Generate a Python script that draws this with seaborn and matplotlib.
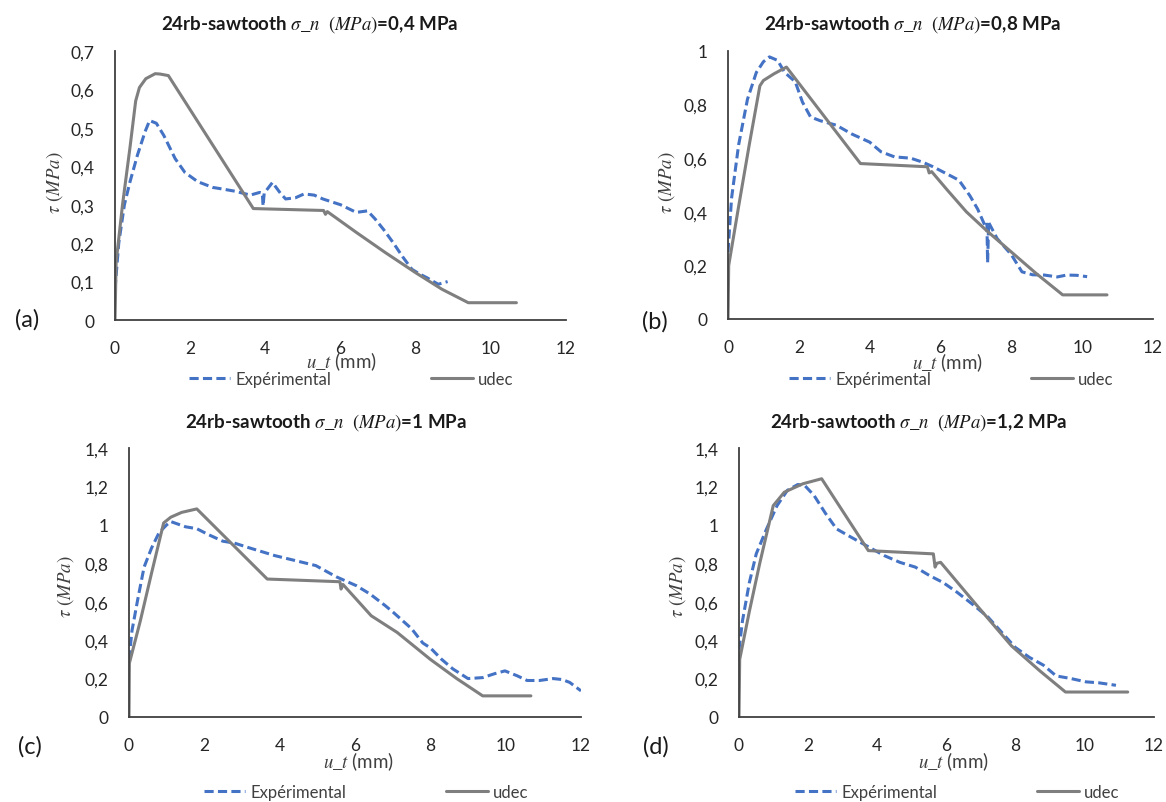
import numpy as np
import pandas as pd
import matplotlib
matplotlib.use("Agg")
import matplotlib.pyplot as plt
from matplotlib.ticker import FuncFormatter, MultipleLocator
import seaborn as sns

# values
titles = ["0,4", "0,8", "1", "1,2"]
panel_tags = ["(a)", "(b)", "(c)", "(d)"]
y_max = [0.7, 1.0, 1.4, 1.4]

exp_a_x = [0, 0.1, 0.25, 0.4, 0.6, 0.8, 0.92, 1.1, 1.3, 1.6, 1.86, 2.2, 2.6, 2.85, 3.2, 3.6, 3.85, 3.92, 3.94, 3.97, 4.19, 4.4, 4.54, 4.8, 5.03, 5.3, 5.53, 6.0, 6.42, 6.72, 6.92, 7.15, 7.41, 7.65, 7.9, 8.1, 8.3, 8.6, 8.85]
exp_a_y = [0.08, 0.2, 0.3, 0.36, 0.43, 0.49, 0.519, 0.512, 0.48, 0.42, 0.384, 0.36, 0.345, 0.341, 0.335, 0.325, 0.332, 0.33, 0.297, 0.33, 0.358, 0.33, 0.315, 0.318, 0.328, 0.325, 0.315, 0.3, 0.28, 0.284, 0.263, 0.235, 0.2, 0.165, 0.132, 0.12, 0.11, 0.093, 0.1]
udec_a_x = [0, 0.03, 0.2, 0.4, 0.55, 0.65, 0.82, 1.07, 1.2, 1.42, 3.68, 5.55, 5.6, 5.65, 6.42, 7.2, 8.0, 8.7, 9.4, 10.68]
udec_a_y = [0, 0.15, 0.3, 0.45, 0.57, 0.605, 0.628, 0.641, 0.64, 0.636, 0.29, 0.285, 0.275, 0.282, 0.228, 0.175, 0.123, 0.08, 0.045, 0.045]

exp_b_x = [0, 0.1, 0.3, 0.55, 0.8, 1.0, 1.17, 1.4, 1.6, 1.9, 2.1, 2.33, 2.6, 3.06, 3.5, 4.0, 4.32, 4.7, 5.16, 5.5, 5.79, 6.2, 6.52, 6.83, 7.05, 7.25, 7.31, 7.33, 7.36, 7.6, 8.0, 8.3, 8.6, 8.93, 9.3, 9.56, 9.85, 10.14]
exp_b_y = [0.25, 0.45, 0.65, 0.82, 0.92, 0.96, 0.978, 0.965, 0.92, 0.885, 0.81, 0.754, 0.74, 0.723, 0.69, 0.66, 0.624, 0.605, 0.6, 0.585, 0.568, 0.54, 0.518, 0.46, 0.41, 0.35, 0.36, 0.21, 0.36, 0.3, 0.24, 0.176, 0.165, 0.164, 0.157, 0.164, 0.163, 0.158]
udec_b_x = [0, 0.02, 0.3, 0.6, 0.9, 1.0, 1.3, 1.65, 3.74, 5.63, 5.68, 5.75, 6.2, 6.73, 7.3, 8.0, 8.7, 9.45, 10.7]
udec_b_y = [0, 0.2, 0.42, 0.65, 0.87, 0.89, 0.915, 0.94, 0.58, 0.568, 0.545, 0.55, 0.48, 0.4, 0.33, 0.25, 0.17, 0.09, 0.09]

exp_c_x = [0, 0.08, 0.23, 0.4, 0.6, 0.8, 1.0, 1.11, 1.5, 1.8, 2.1, 2.49, 2.8, 3.2, 3.87, 4.5, 4.96, 5.5, 6.04, 6.4, 6.8, 7.02, 7.5, 7.8, 8.0, 8.3, 8.6, 9.0, 9.39, 9.7, 9.98, 10.3, 10.57, 10.9, 11.26, 11.5, 11.7, 12.0]
exp_c_y = [0.3, 0.45, 0.61, 0.78, 0.88, 0.96, 1.0, 1.017, 0.99, 0.98, 0.95, 0.915, 0.905, 0.88, 0.84, 0.81, 0.788, 0.73, 0.683, 0.64, 0.58, 0.544, 0.46, 0.385, 0.36, 0.3, 0.25, 0.2, 0.205, 0.225, 0.24, 0.215, 0.19, 0.19, 0.2, 0.195, 0.18, 0.136]
udec_c_x = [0, 0.01, 0.3, 0.6, 0.92, 1.11, 1.4, 1.8, 3.67, 5.6, 5.63, 5.68, 6.43, 7.12, 8.0, 8.7, 9.39, 10.67]
udec_c_y = [0, 0.28, 0.5, 0.75, 1.01, 1.04, 1.065, 1.083, 0.718, 0.704, 0.666, 0.69, 0.527, 0.44, 0.3, 0.2, 0.11, 0.11]

exp_d_x = [0, 0.1, 0.3, 0.5, 0.8, 1.1, 1.4, 1.7, 1.9, 2.17, 2.5, 2.82, 3.2, 3.68, 4.2, 4.65, 5.1, 5.51, 5.9, 6.3, 6.8, 7.2, 7.6, 7.99, 8.4, 8.8, 9.17, 9.6, 10.03, 10.4, 10.9]
exp_d_y = [0.35, 0.5, 0.7, 0.85, 0.98, 1.1, 1.18, 1.21, 1.205, 1.153, 1.06, 0.979, 0.94, 0.892, 0.84, 0.805, 0.78, 0.736, 0.7, 0.65, 0.58, 0.52, 0.44, 0.362, 0.31, 0.27, 0.214, 0.2, 0.183, 0.178, 0.165]
udec_d_x = [0, 0.02, 0.3, 0.6, 0.99, 1.31, 1.85, 2.39, 3.74, 5.62, 5.67, 5.72, 5.83, 6.8, 7.88, 8.7, 9.44, 11.24]
udec_d_y = [0, 0.3, 0.55, 0.8, 1.1, 1.17, 1.214, 1.24, 0.866, 0.849, 0.78, 0.8, 0.805, 0.597, 0.37, 0.24, 0.13, 0.13]

exp_x = [exp_a_x, exp_b_x, exp_c_x, exp_d_x]
exp_y = [exp_a_y, exp_b_y, exp_c_y, exp_d_y]
udec_x = [udec_a_x, udec_b_x, udec_c_x, udec_d_x]
udec_y = [udec_a_y, udec_b_y, udec_c_y, udec_d_y]

sns.set_style("white")
plt.rcParams["font.family"] = ["Lato", "DejaVu Sans"]
plt.rcParams["mathtext.fontset"] = "stix"

W, H = 1166, 803
fig = plt.figure(figsize=(W / 100, H / 100), dpi=100)

# layout in pixels: left, right, bottom(y=0), top(y=max)
boxes = [(115, 566, 321, 52), (728, 1153, 320, 52), (129, 581, 718, 449), (739, 1154, 718, 449)]
title_pos = [(310, 25), (913, 25), (326, 423), (919, 423)]
ylab_pos = [(55, 183), (667, 183), (66, 587), (678, 587)]
xlab_pos = [(341, 362), (947, 363), (358, 762), (953, 762)]
tag_pos = [(27, 320), (655, 322), (30, 747), (656, 747)]
leg_pos = [(351, 380), (951, 380), (366, 793), (957, 793)]

comma = FuncFormatter(lambda v, p: f"{v:g}".replace(".", ","))
blue = "#4472C4"
gray = "#7F7F7F"

for i in range(4):
    l, r, b, t = boxes[i]
    ax = fig.add_axes([l / W, 1 - b / H, (r - l) / W, (b - t) / H])
    df_e = pd.DataFrame({"x": exp_x[i], "y": exp_y[i]})
    df_u = pd.DataFrame({"x": udec_x[i], "y": udec_y[i]})
    sns.lineplot(data=df_e, x="x", y="y", ax=ax, sort=False, estimator=None,
                 color=blue, lw=2.2, linestyle=(0, (3, 1.4)), label="Expérimental")
    sns.lineplot(data=df_u, x="x", y="y", ax=ax, sort=False, estimator=None,
                 color=gray, lw=2.2, label="udec")
    ax.set_xlim(0, 12)
    ax.set_ylim(0, y_max[i])
    ax.xaxis.set_major_locator(MultipleLocator(2))
    ax.yaxis.set_major_locator(MultipleLocator(0.1 if i == 0 else 0.2))
    ax.xaxis.set_major_formatter(comma)
    ax.yaxis.set_major_formatter(comma)
    for s in ["top", "right"]:
        ax.spines[s].set_visible(False)
    for s in ["left", "bottom"]:
        ax.spines[s].set_color("#404040")
        ax.spines[s].set_linewidth(1.3)
    ax.tick_params(direction="inout", length=9, width=1.2, color="#404040",
                   labelsize=12.5, labelcolor="#262626", pad=10)
    ax.set_xlabel("")
    ax.set_ylabel("")

    fig.text(title_pos[i][0] / W, 1 - title_pos[i][1] / H,
             r"24rb-sawtooth $\sigma\_n$  $(MPa)$=" + titles[i] + " MPa",
             ha="center", va="center", fontsize=13.5, fontweight="bold", color="#1a1a1a")
    fig.text(ylab_pos[i][0] / W, 1 - ylab_pos[i][1] / H, r"$\tau$ $(MPa)$",
             rotation=90, ha="center", va="center", fontsize=13.5, color="#404040")
    fig.text(xlab_pos[i][0] / W, 1 - xlab_pos[i][1] / H, r"$u\_t$ (mm)",
             ha="center", va="center", fontsize=13.5, color="#404040")
    fig.text(tag_pos[i][0] / W, 1 - tag_pos[i][1] / H, panel_tags[i],
             ha="center", va="center", fontsize=17, color="#1a1a1a")
    ax.legend(loc="center", bbox_to_anchor=(leg_pos[i][0] / W, 1 - leg_pos[i][1] / H),
              bbox_transform=fig.transFigure, ncol=2, frameon=False, fontsize=12,
              handlelength=2.5, handletextpad=0.3, columnspacing=6.0, borderaxespad=0,
              labelcolor="#404040")

fig.savefig("out.png", dpi=100)
